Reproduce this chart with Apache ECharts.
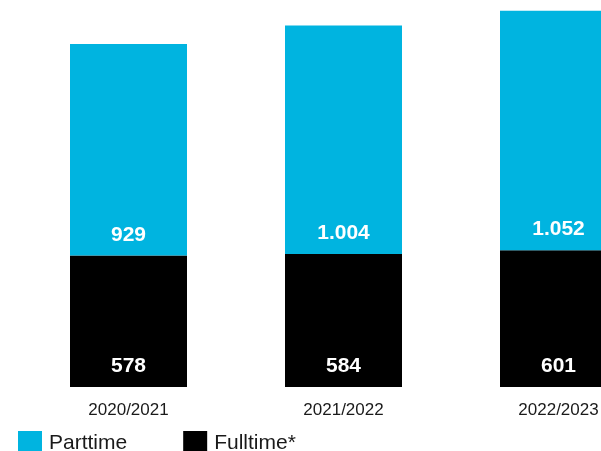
<!DOCTYPE html>
<html>
<head>
<meta charset="utf-8">
<script src="https://cdn.jsdelivr.net/npm/echarts@6/dist/echarts.min.js"></script>
<style>
  html, body { margin: 0; padding: 0; background: #fff; }
  #chart { width: 601px; height: 451px; }
</style>
</head>
<body>
<div id="chart"></div>
<script>
const years = ['2020/2021', '2021/2022', '2022/2023'];
const fulltime = [578, 584, 601];
const parttime = [929, 1004, 1052];

const chart = echarts.init(document.getElementById('chart'));

// German style thousands separator: 1.004
const fmt = p => p.value.toLocaleString('de-DE');

const segLabel = {
    show: true,
    position: 'insideBottom',
    distance: 10,
    color: '#fff',
    fontFamily: 'Liberation Sans, Arial, sans-serif',
    fontWeight: 'bold',
    fontSize: 21,
    formatter: fmt
};

const option = {
    animation: false,
    grid: {
        left: 21,
        top: 0,
        right: -65,
        bottom: 64,
        containLabel: false,
        outerBoundsMode: 'none'
    },
    legend: {
        left: 13,
        top: 426,
        icon: 'rect',
        itemWidth: 24,
        itemHeight: 24,
        itemGap: 56,
        textStyle: {
            fontFamily: 'Liberation Sans, Arial, sans-serif',
            fontSize: 21,
            color: '#1a1a1a',
            padding: [0, 0, 0, 2]
        },
        data: ['Parttime', 'Fulltime*']
    },
    xAxis: {
        type: 'category',
        data: years,
        axisLine: {show: false},
        axisTick: {show: false},
        axisLabel: {
            margin: 15,
            fontFamily: 'Liberation Sans, Arial, sans-serif',
            fontSize: 17,
            color: '#1a1a1a'
        }
    },
    yAxis: {
        type: 'value',
        min: 0,
        max: 1700,
        show: false,
        splitLine: {show: false}
    },
    series: [
        {
            name: 'Fulltime*',
            type: 'bar',
            stack: 'total',
            barWidth: 117,
            itemStyle: {color: '#000000'},
            label: segLabel,
            data: fulltime
        },
        {
            name: 'Parttime',
            type: 'bar',
            stack: 'total',
            barWidth: 117,
            itemStyle: {color: '#00b4e0'},
            label: segLabel,
            data: parttime
        }
    ]
};

chart.setOption(option);
</script>
</body>
</html>
